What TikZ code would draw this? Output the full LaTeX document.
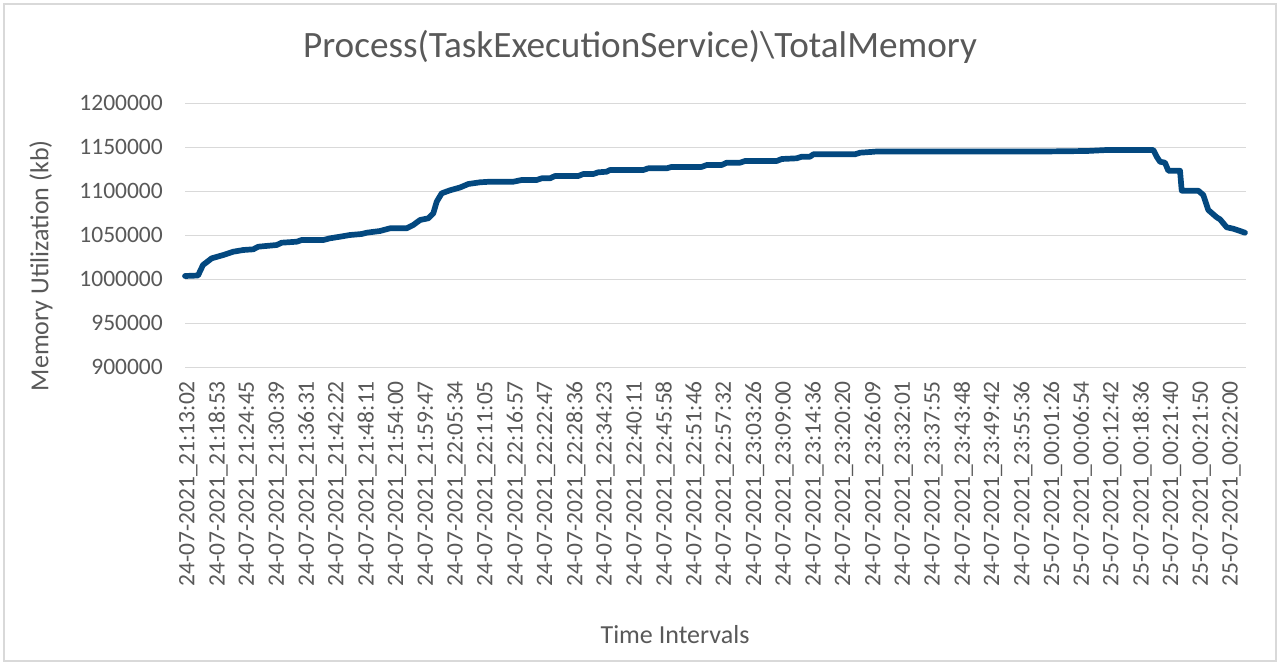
\documentclass[tikz,border=0pt]{standalone}
\usepackage{fontspec}
\setmainfont{Carlito}
\definecolor{axisgray}{HTML}{595959}
\definecolor{gridgray}{HTML}{D9D9D9}
\definecolor{seriesblue}{HTML}{03487F}
\begin{document}
\begin{tikzpicture}[x=1pt,y=-1pt,
  frame/.style={draw=gridgray,line width=1.5pt},
  gridline/.style={draw=gridgray,line width=1.5pt},
  ytick/.style={text=axisgray,inner sep=0pt,anchor=east,font=\fontsize{23.5}{28}\selectfont},
  xtick/.style={text=axisgray,inner sep=0pt,anchor=east,rotate=90,font=\fontsize{23.5}{28}\selectfont},
  charttitle/.style={text=axisgray,inner sep=0pt,anchor=base,font=\fontsize{37.2}{42}\selectfont},
  axistitle/.style={text=axisgray,inner sep=0pt,font=\fontsize{26}{30}\selectfont},
  series/.style={draw=seriesblue,line width=5.7pt,line join=round,line cap=round}]
\useasboundingbox (0,0) rectangle (1282,664);
\fill[white] (0,0) rectangle (1282,664);
% chart area border
\draw[frame] (4,4) rectangle (1276,661);

% horizontal gridlines and value labels
\foreach \k/\v in {0/1200000,1/1150000,2/1100000,3/1050000,4/1000000,5/950000,6/900000}{
  \draw[gridline] (185,{103.3+44*\k}) -- (1246,{103.3+44*\k});
  \node[ytick] (ylab\k) at (163,{103.3+44*\k}) {\v};
}

% category labels
\foreach \lab [count=\i from 0] in {
  24-07-2021\_21:13:02,24-07-2021\_21:18:53,24-07-2021\_21:24:45,24-07-2021\_21:30:39,
  24-07-2021\_21:36:31,24-07-2021\_21:42:22,24-07-2021\_21:48:11,24-07-2021\_21:54:00,
  24-07-2021\_21:59:47,24-07-2021\_22:05:34,24-07-2021\_22:11:05,24-07-2021\_22:16:57,
  24-07-2021\_22:22:47,24-07-2021\_22:28:36,24-07-2021\_22:34:23,24-07-2021\_22:40:11,
  24-07-2021\_22:45:58,24-07-2021\_22:51:46,24-07-2021\_22:57:32,24-07-2021\_23:03:26,
  24-07-2021\_23:09:00,24-07-2021\_23:14:36,24-07-2021\_23:20:20,24-07-2021\_23:26:09,
  24-07-2021\_23:32:01,24-07-2021\_23:37:55,24-07-2021\_23:43:48,24-07-2021\_23:49:42,
  24-07-2021\_23:55:36,25-07-2021\_00:01:26,25-07-2021\_00:06:54,25-07-2021\_00:12:42,
  25-07-2021\_00:18:36,25-07-2021\_00:21:40,25-07-2021\_00:21:50,25-07-2021\_00:22:00}{
  \node[xtick] (xlab\i) at ({188.3+29.81*\i},381) {\lab};
}

% titles
\node[charttitle] (title) at (640,57.3) {Process(TaskExecutionService)\textbackslash TotalMemory};
\node[axistitle,anchor=base] (xtitle) at (675,643.3) {Time Intervals};
\node[axistitle,rotate=90] (ytitle) at (41,265.7) {Memory Utilization (kb)};

% memory series
\draw[series] (185,276) -- (198,275.5) -- (203,265) -- (211.7,258.3) -- (223.3,255)
  -- (233.3,251.7) -- (243.3,250) -- (253.3,249.3) -- (258.3,246.7) -- (276.7,245)
  -- (281.7,242.7) -- (296.7,241.7) -- (301.7,240) -- (323.3,240) -- (330,238.3)
  -- (340,236.7) -- (350,235) -- (361.7,234) -- (366.7,232.7) -- (380,231)
  -- (390,228.3) -- (406.7,228.3) -- (413.3,225) -- (420,220) -- (428.3,218.3)
  -- (433.3,213.3) -- (436.7,201.7) -- (441.7,193.3) -- (450,190.3) -- (460,187.5)
  -- (468.3,184) -- (480,182.3) -- (490,181.7) -- (513.3,181.7) -- (521.7,180)
  -- (536.7,180) -- (541.7,178.3) -- (550,178.3) -- (555,176) -- (578.3,176)
  -- (583.3,174) -- (593.3,174) -- (598.3,172.3) -- (606.7,171.7) -- (610,170)
  -- (643.3,170) -- (648.3,168.3) -- (666.7,168.3) -- (671.7,166.9) -- (701.7,166.9)
  -- (706.7,165) -- (721.7,165) -- (726.7,162.7) -- (740,162.7) -- (745,161)
  -- (776.7,161) -- (781.7,159) -- (796.7,158.3) -- (801.7,156.7) -- (810,156.7)
  -- (813.3,154.3) -- (855,154.3) -- (860,152.7) -- (871.7,151.9) -- (876.7,151.5)
  -- (1043,151.5) -- (1086.7,151) -- (1106.7,150) -- (1153.3,150) -- (1156.7,156.7)
  -- (1160,161.7) -- (1165,162.7) -- (1168.3,170.7) -- (1180,170.7) -- (1181.7,190.7)
  -- (1198.3,190.7) -- (1203.3,195) -- (1208.3,210) -- (1216.7,217.3) -- (1220,219.3)
  -- (1226.7,227.3) -- (1233.3,228.7) -- (1245,232.7);
\end{tikzpicture}
\end{document}
